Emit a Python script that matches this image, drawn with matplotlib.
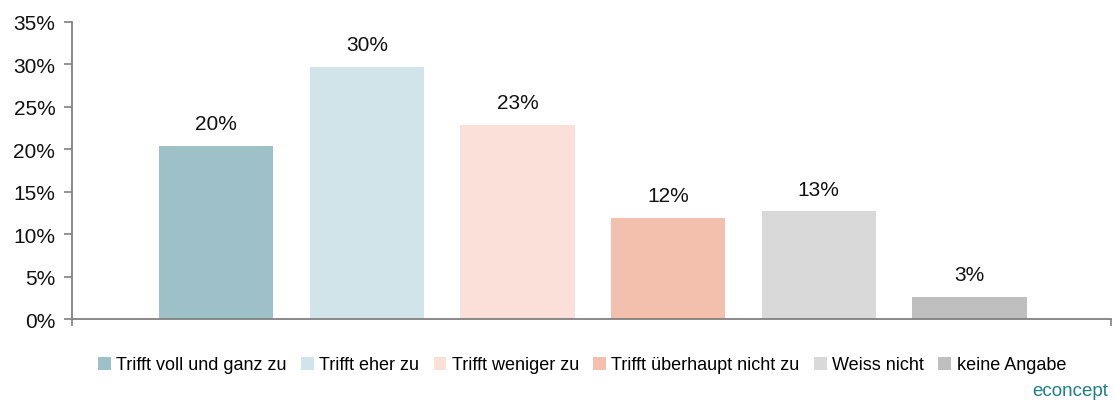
import matplotlib
matplotlib.use("Agg")
import matplotlib.pyplot as plt
from matplotlib.ticker import FuncFormatter, MultipleLocator
from matplotlib.patches import Patch

categories = ["Trifft voll und ganz zu", "Trifft eher zu", "Trifft weniger zu",
              "Trifft überhaupt nicht zu", "Weiss nicht", "keine Angabe"]
values = [20.4, 29.7, 22.9, 11.9, 12.7, 2.6]
labels = ["20%", "30%", "23%", "12%", "13%", "3%"]
colors = ["#9DC0C9", "#D0E4EA", "#FAE0D8", "#F2C0AC", "#D9D9D9", "#BFBFBF"]

plt.rcParams['font.family'] = ['Liberation Sans', 'DejaVu Sans']

fig = plt.figure(figsize=(11.15, 4.06), dpi=100)
ax = fig.add_axes([72/1115, 1-320/406, (1111-72)/1115, (320-23)/406])

x = list(range(len(values)))
bars = ax.bar(x, values, width=0.76, color=colors)
for xi, v, lab in zip(x, values, labels):
    ax.text(xi, v + 1.5, lab, ha='center', va='bottom', fontsize=15, color='#111111')

ax.set_ylim(0, 35)
ax.set_xlim(-0.957, 5.94)
ax.yaxis.set_major_locator(MultipleLocator(5))
ax.yaxis.set_major_formatter(FuncFormatter(lambda v, p: f"{int(round(v))}%"))
ax.set_xticks([-0.957, 5.94])
ax.set_xticklabels([])
for s in ['top', 'right']:
    ax.spines[s].set_visible(False)
for s in ['left', 'bottom']:
    ax.spines[s].set_color('#808080')
    ax.spines[s].set_linewidth(1.3)
ax.tick_params(axis='y', colors='#808080', labelcolor='#111111', labelsize=15,
               length=6, width=1.2, direction='out', pad=6)
ax.tick_params(axis='x', colors='#808080', length=5, width=1.2, direction='out')

handles = [Patch(facecolor=c, edgecolor='none') for c in colors]
fig.legend(handles, categories, loc='center', bbox_to_anchor=(582/1115, 1-366/406),
           ncol=6, frameon=False, fontsize=13, handlelength=0.7, handleheight=0.7,
           handletextpad=0.3, columnspacing=0.8)

fig.text(1108/1115, 1-392/406, "econcept", ha='right', va='center', fontsize=13.5,
         color='#1F7F86')

fig.savefig("out.png", dpi=100)
